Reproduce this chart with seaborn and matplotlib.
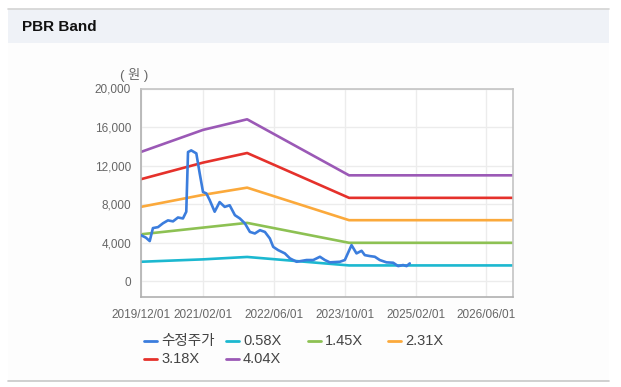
import matplotlib
matplotlib.use("Agg")
import matplotlib.pyplot as plt
from matplotlib.patches import Rectangle
from matplotlib.lines import Line2D
import seaborn as sns
import pandas as pd

# ---------------- data ----------------
price_dates = ["2019-12-02", "2020-01-06", "2020-02-01", "2020-02-23", "2020-03-29",
               "2020-05-02", "2020-06-05", "2020-07-10", "2020-08-13", "2020-09-16",
               "2020-10-09", "2020-10-21", "2020-11-12", "2020-12-17", "2021-01-09",
               "2021-02-01", "2021-02-24", "2021-03-19", "2021-04-22", "2021-05-26",
               "2021-06-30", "2021-08-03", "2021-09-08", "2021-10-12", "2021-11-16",
               "2021-12-20", "2022-01-23", "2022-02-27", "2022-04-02", "2022-05-06",
               "2022-05-29", "2022-07-02", "2022-08-17", "2022-09-21", "2022-11-06",
               "2023-01-13", "2023-02-28", "2023-04-15", "2023-05-19", "2023-06-22",
               "2023-08-30", "2023-10-03", "2023-11-18", "2023-12-22", "2024-01-26",
               "2024-02-17", "2024-03-23", "2024-04-26", "2024-05-30", "2024-07-15",
               "2024-08-30", "2024-10-03", "2024-11-06", "2024-11-30", "2024-12-22"]
price_values = [4770, 4500, 4150, 5500, 5600,
                6000, 6300, 6200, 6600, 6500,
                7200, 13400, 13570, 13260, 11200,
                9250, 9100, 8400, 7200, 8200,
                7700, 7870, 6840, 6500, 5980,
                5100, 4940, 5280, 5100, 4420,
                3550, 3210, 2870, 2350, 2000,
                2180, 2180, 2520, 2180, 1940,
                2000, 2180, 3730, 2870, 3140,
                2690, 2590, 2520, 2180, 1940,
                1900, 1550, 1660, 1550, 1830]

band_dates = ["2019-12-01", "2021-02-01", "2021-12-01", "2023-11-01", "2026-12-01"]
band_058 = [2000, 2250, 2500, 1620, 1620]
band_145 = [4850, 5550, 6040, 3970, 3970]
band_231 = [7700, 8950, 9700, 6320, 6320]
band_318 = [10570, 12300, 13300, 8640, 8640]
band_404 = [13400, 15700, 16800, 10980, 10980]

series_names = ["수정주가", "0.58X", "1.45X", "2.31X", "3.18X", "4.04X"]
colors = ["#3b7ddd", "#1cb8d0", "#8dc153", "#fba93b", "#e5312b", "#9b59b6"]

y_ticks = [0, 4000, 8000, 12000, 16000, 20000]
x_tick_labels = ["2019/12/01", "2021/02/01", "2022/06/01", "2023/10/01", "2025/02/01", "2026/06/01"]

# ---------------- frames ----------------
frames = [pd.DataFrame({"date": pd.to_datetime(price_dates), "value": price_values,
                        "series": series_names[0]})]
for name, vals in zip(series_names[1:], [band_058, band_145, band_231, band_318, band_404]):
    frames.append(pd.DataFrame({"date": pd.to_datetime(band_dates), "value": vals, "series": name}))
df = pd.concat(frames, ignore_index=True)

sns.set_style("white")
plt.rcParams["font.family"] = ["Liberation Sans", "Noto Sans CJK KR", "DejaVu Sans"]

W, H = 621, 387
fig = plt.figure(figsize=(W / 100, H / 100), dpi=100)
fig.patch.set_facecolor("white")


def fx(x):
    return x / W


def fy(y):
    return 1 - y / H


# panel background and borders
fig.patches.append(Rectangle((fx(8), fy(381)), fx(601), (381 - 8) / H, transform=fig.transFigure,
                             facecolor="#fdfdfd", edgecolor="none", zorder=-2))
fig.patches.append(Rectangle((fx(8), fy(43)), fx(601), (43 - 9) / H, transform=fig.transFigure,
                             facecolor="#eff2f7", edgecolor="none", zorder=-1))
fig.add_artist(Line2D([fx(8), fx(609)], [fy(8.5), fy(8.5)], transform=fig.transFigure,
                      color="#d4d4d4", lw=1.2))
fig.add_artist(Line2D([fx(8), fx(609)], [fy(381), fy(381)], transform=fig.transFigure,
                      color="#c8c8c8", lw=1.2))
fig.text(fx(22), fy(27), "PBR Band", fontsize=11, fontweight="bold", color="#111111",
         va="center", ha="left")

ax = fig.add_axes([fx(140.7), fy(297), (513 - 140.7) / W, (297 - 88.5) / H])
ax.set_facecolor("white")
ax.set_zorder(1)

for name, c in zip(series_names[::-1], colors[::-1]):
    sub = df[df["series"] == name]
    sns.lineplot(data=sub, x="date", y="value", ax=ax, color=c, lw=1.9,
                 legend=False, zorder=3 if name == series_names[0] else 2)

ax.set_ylim(-1660, 20000)
ax.set_xlim(pd.Timestamp("2019-12-01"), pd.Timestamp("2026-12-01"))
ax.set_yticks(y_ticks)
ax.set_yticklabels([f"{v:,}" for v in y_ticks])
xt = pd.to_datetime([s.replace("/", "-") for s in x_tick_labels])
ax.set_xticks(xt)
ax.set_xticklabels(x_tick_labels)
ax.set_xlabel("")
ax.set_ylabel("")
ax.grid(True, color="#ececec", lw=1.0)
ax.set_axisbelow(True)
ax.tick_params(axis="both", which="both", direction="out", length=5, width=1,
               color="#aaaaaa", labelcolor="#666666", labelsize=8.5, pad=2)
ax.tick_params(axis="x", pad=4)
for s in ["left", "bottom"]:
    ax.spines[s].set_color("#b0b0b0")
    ax.spines[s].set_linewidth(1.2)
for s in ["top", "right"]:
    ax.spines[s].set_color("#c4c4c4")
    ax.spines[s].set_linewidth(1.2)

fig.text(fx(120), fy(75), "( 원 )", fontsize=9.5, color="#666666", va="center", ha="left")

# legend
legend_pos = [(144, 341), (226, 341), (308, 341), (388, 341), (144, 359), (226, 359)]
for (lx, ly), name, c in zip(legend_pos, series_names, colors):
    fig.add_artist(Line2D([fx(lx), fx(lx + 13)], [fy(ly), fy(ly)], transform=fig.transFigure,
                          color=c, lw=2))
    fig.text(fx(lx + 17), fy(ly), name, fontsize=10.5, color="#444444", va="center", ha="left")

fig.savefig("out.png", dpi=100, facecolor="white")
